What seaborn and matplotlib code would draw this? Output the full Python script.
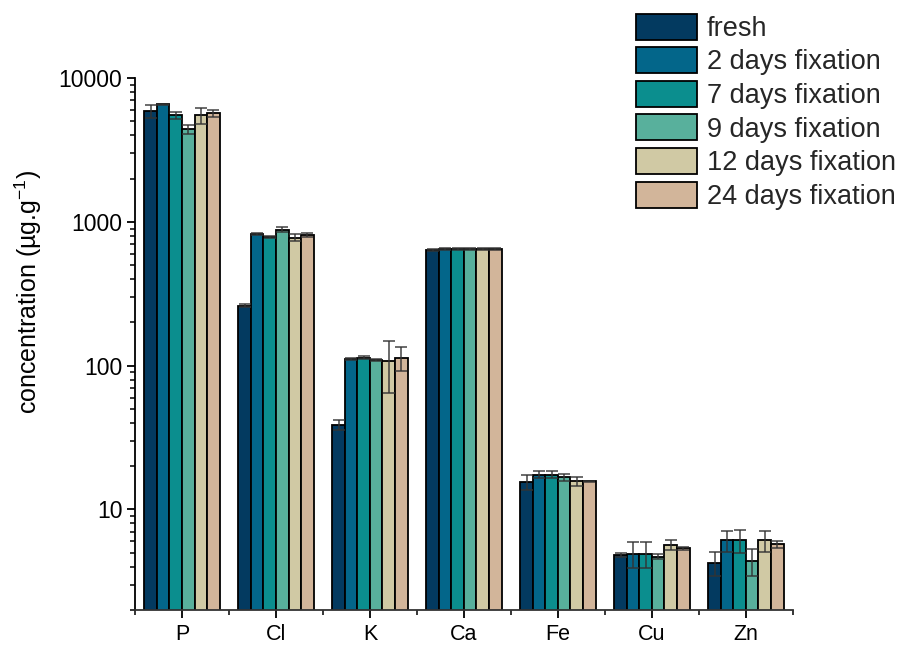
import seaborn as sns
from matplotlib import pyplot as plt
from matplotlib import ticker
import pandas as pd

elements = ['P', 'Cl', 'K', 'Ca', 'Fe', 'Cu', 'Zn']
groups = ['fresh', '2 days fixation', '7 days fixation', '9 days fixation',
          '12 days fixation', '24 days fixation']
colors = ['#033a60', '#03668a', '#0b8e8e', '#58b09c', '#d0c9a4', '#d2b59a']

# one list per element, in group order
p_vals = [5900, 6560, 5500, 4400, 5500, 5700]
cl_vals = [262, 826, 783, 885, 778, 809]
k_vals = [38.7, 112, 114, 110, 107, 113]
ca_vals = [640, 650, 650, 648, 650, 648]
fe_vals = [15.5, 17.5, 17.5, 16.7, 15.7, 15.7]
cu_vals = [4.8, 4.92, 4.92, 4.69, 5.65, 5.36]
zn_vals = [4.24, 6.09, 6.09, 4.37, 6.09, 5.74]

p_err = [600, 50, 300, 300, 700, 300]
cl_err = [5, 10, 10, 30, 40, 25]
k_err = [2.9, 2, 2, 2, 42, 21]
ca_err = [8, 8, 8, 8, 8, 8]
fe_err = [1.8, 1.0, 1.0, 1.0, 1.1, 0.2]
cu_err = [0.15, 1.0, 1.0, 0.2, 0.45, 0.15]
zn_err = [0.8, 1.0, 1.1, 0.95, 1.0, 0.3]

values = [p_vals, cl_vals, k_vals, ca_vals, fe_vals, cu_vals, zn_vals]
errors = [p_err, cl_err, k_err, ca_err, fe_err, cu_err, zn_err]

rows = []
for el, vals, errs in zip(elements, values, errors):
    for g, v, e in zip(groups, vals, errs):
        rows.append((el, g, v, e))
df = pd.DataFrame(rows, columns=['element', 'group', 'value', 'err'])

sns.set_theme(style='ticks')
plt.rcParams['font.family'] = ['Liberation Sans', 'DejaVu Sans']
plt.rcParams['mathtext.fontset'] = 'custom'
plt.rcParams['mathtext.rm'] = 'Liberation Sans'
plt.rcParams['mathtext.it'] = 'Liberation Sans:italic'
plt.rcParams['axes.unicode_minus'] = False

fig = plt.figure(figsize=(9, 6.47), dpi=100)
ax = fig.add_axes([0.15, 0.0572, 0.731, 0.822])

sns.barplot(data=df, x='element', y='value', hue='group', order=elements,
            hue_order=groups, palette=colors, errorbar=None, width=0.8,
            edgecolor='black', linewidth=1.3, saturation=1, ax=ax)
ax.set_yscale('log')

# error bars on top of each bar
for container, g in zip(ax.containers, groups):
    sub = df[df['group'] == g].set_index('element').loc[elements]
    xs = [b.get_x() + b.get_width() / 2 for b in container]
    ax.errorbar(xs, sub['value'].values, yerr=sub['err'].values, fmt='none',
                ecolor='#333333', elinewidth=1.2, capsize=4.5, capthick=1.2,
                alpha=0.85, zorder=5)

ax.set_ylim(2, 10000)
ax.set_xlim(-0.5, 6.5)
ax.yaxis.set_major_locator(ticker.FixedLocator([10, 100, 1000, 10000]))
ax.yaxis.set_major_formatter(ticker.FixedFormatter(['10', '100', '1000', '10000']))
ax.yaxis.set_minor_locator(ticker.LogLocator(base=10, subs=range(2, 10)))
ax.yaxis.set_minor_formatter(ticker.NullFormatter())
ax.xaxis.set_minor_locator(ticker.FixedLocator([i + 0.5 for i in range(-1, 7)]))

ax.tick_params(axis='both', which='major', direction='out', length=6, width=1.3,
               labelsize=16.5, color='black', labelcolor='black')
ax.tick_params(axis='both', which='minor', direction='out', length=3.5, width=1.1,
               color='black')
ax.tick_params(axis='x', pad=4, labelsize=15.5)
ax.tick_params(axis='y', pad=3)

ax.set_xlabel('')
ax.set_ylabel('concentration (µg.g$^{-1}$)', fontsize=18, color='black')
ax.yaxis.set_label_coords(-0.138, 0.598)

ax.spines['top'].set_visible(False)
ax.spines['right'].set_visible(False)
ax.spines['left'].set_linewidth(1.3)
ax.spines['bottom'].set_linewidth(1.3)
ax.spines['left'].set_color('black')
ax.spines['bottom'].set_color('#333333')

handles, labels = ax.get_legend_handles_labels()
ax.legend_.remove()
fig.legend(handles, labels, loc='upper left', bbox_to_anchor=(0.7065, 0.979),
           frameon=False, fontsize=19.5, handlelength=2.25, handleheight=1.1,
           labelspacing=0.2, handletextpad=0.37, borderaxespad=0.0,
           borderpad=0.0)

plt.savefig('out.png', dpi=100)
plt.close()
